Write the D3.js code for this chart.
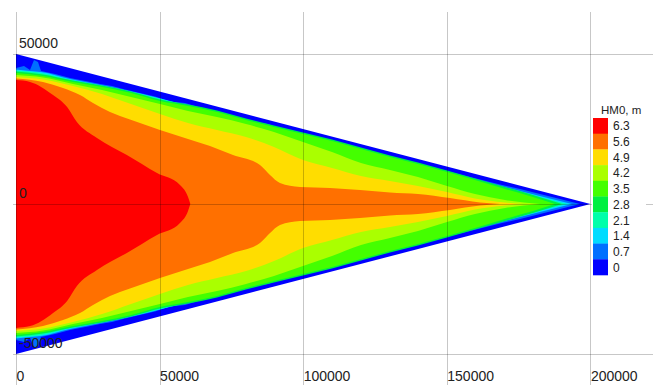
<!DOCTYPE html>
<html><head><meta charset="utf-8">
<script src="https://cdn.jsdelivr.net/npm/d3@7"></script>
<style>
body{margin:0;background:#fff}
svg{display:block;font-family:"Liberation Sans",Arial,sans-serif}
</style>
</head><body>
<svg id="chart" width="662" height="385"></svg>
<script>
// HM0 contour levels (m) and fill colours
var levels = [0, 0.7, 1.4, 2.1, 2.8, 3.5, 4.2, 4.9, 5.6, 6.3];
var colors = ["#0000ff", "#0070ff", "#00dcff", "#00ffaa", "#00f040", "#44ff00", "#aaff00", "#ffdd00", "#ff7000", "#ff0000"];

// half-width (y, m) of the zone where HM0 >= level, read along x (m); symmetric about y = 0
var hw00 = [[0, 50000], [200000, 0]];
var hw07 = [[0, 45333], [2786, 46000], [4875, 44667], [6267, 48000], [7660, 47333], [8705, 44333], [13579, 43333],
  [18802, 42000], [22284, 41333], [25070, 40833], [29248, 40000], [33426, 39333], [37953, 38167], [43176, 37000],
  [48398, 35833], [53621, 34167], [58844, 33667], [64067, 32167], [69290, 30333], [75209, 29667], [81476, 27500],
  [87744, 26667], [93663, 24500], [98886, 23667], [105850, 21167], [112813, 20167], [119777, 18000], [126741, 16667],
  [133705, 14833], [140669, 13167], [147632, 11500], [154596, 9833], [161560, 8167], [168524, 6500], [175488, 5000],
  [182451, 3333], [189415, 1667], [196382, 0]];
var hw14 = [[0, 44833], [4875, 44333], [8705, 44000], [18802, 41667], [29248, 39667], [43176, 36833], [58844, 33000],
  [75209, 29000], [93663, 24000], [112813, 19333], [133705, 14333], [154596, 9333], [175488, 4333], [193593, 0]];
var hw21 = [[0, 44500], [8705, 43667], [18802, 41333], [29248, 39500], [43176, 36667], [58844, 32833], [75209, 28833],
  [93663, 23833], [112813, 19167], [133705, 14000], [154596, 9000], [175488, 3833], [191852, 0]];
var hw28 = [[0, 44167], [9401, 43167], [19847, 41167], [29945, 39500], [40042, 37500], [50139, 34833], [59889, 33167],
  [69986, 31167], [80084, 28500], [89834, 26167], [99932, 23833], [110029, 21500], [120127, 18833], [130223, 16167],
  [139972, 13833], [150070, 11167], [159820, 8500], [170266, 5667], [180016, 3000], [190112, 0]];
var hw35 = [[0, 43667], [9401, 42667], [19847, 40667], [29945, 39000], [40042, 37000], [50139, 34333], [59889, 32667],
  [69986, 30667], [80084, 28000], [89834, 25667], [99932, 23333], [110029, 21000], [120127, 18333], [130223, 15667],
  [139972, 13333], [150070, 10667], [159820, 8000], [170266, 5000], [180016, 2333], [187676, 0]];
var hw42 = [[0, 43000], [9401, 42167], [19847, 40000], [29945, 38000], [40042, 35667], [50139, 33333], [59889, 31000],
  [69986, 29000], [80084, 26667], [89834, 24000], [99932, 20667], [110029, 17333], [120127, 13667], [130223, 11333],
  [139972, 9000], [150070, 6000], [159820, 3333], [170266, 1333], [182453, 0]];
var hw49 = [[0, 42333], [9401, 41500], [19847, 39333], [29945, 36667], [40042, 33333], [50139, 30000], [59889, 27000],
  [69986, 24667], [80084, 22333], [89834, 19000], [99932, 14667], [110029, 12000], [120127, 9333], [130223, 7667],
  [139972, 6000], [150070, 4000], [159820, 1833], [170266, 500], [176533, 0]];
var hw56 = [[0, 41833], [9401, 40667], [16365, 38667], [22284, 36333], [26811, 33667], [32730, 30667], [39693, 28167],
  [50139, 24667], [59889, 21667], [67549, 19333], [75557, 16333], [84958, 13000], [88440, 9667], [91922, 7000],
  [98886, 5667], [109332, 5333], [119777, 4667], [130223, 3833], [139972, 3333], [151114, 2000], [161560, 500], [168524, 0]];
var hw63 = [[0, 41300], [4900, 40700], [12900, 36300], [17800, 32300], [21200, 27300], [28200, 22000], [38600, 16300],
  [49100, 10300], [57100, 6300], [59900, 2300], [60700, 0]];
var zones = [hw00, hw07, hw14, hw21, hw28, hw35, hw42, hw49, hw56, hw63];

var xTicks = [0, 50000, 100000, 150000, 200000];
var yTicks = [-50000, 0, 50000];
var legendTitle = "HM0, m";

var svg = d3.select("#chart");

var x = d3.scaleLinear().domain([0, 200000]).range([16, 590.4]);
var y = d3.scaleLinear().domain([-50000, 50000]).range([354, 54]);

// filled contour bands, outermost first
var area = d3.area()
  .x(function (d) { return x(d[0]); })
  .y0(function (d) { return y(-d[1]); })
  .y1(function (d) { return y(d[1]); });

svg.append("g").selectAll("path")
  .data(zones)
  .enter()
  .append("path")
  .attr("fill", function (d, i) { return colors[i]; })
  .attr("d", function (d, i) {
    return area.curve(i < 2 ? d3.curveLinear : d3.curveMonotoneX)(d);
  });

// grid
var grid = svg.append("g").attr("stroke", "#000").attr("stroke-opacity", 0.22).attr("stroke-width", 1);
grid.selectAll(".vx").data(xTicks).enter().append("line")
  .attr("x1", function (d) { return Math.round(x(d)) + 0.5; })
  .attr("x2", function (d) { return Math.round(x(d)) + 0.5; })
  .attr("y1", 12).attr("y2", 385);
grid.selectAll(".hy").data(yTicks).enter().append("line")
  .attr("y1", function (d) { return Math.round(y(d)) + 0.5; })
  .attr("y2", function (d) { return Math.round(y(d)) + 0.5; })
  .attr("x1", 13).attr("x2", 653);

// tick labels
svg.append("g").selectAll("text").data(xTicks).enter().append("text")
  .attr("x", function (d) { return x(d) + 0.5; })
  .attr("y", 381)
  .attr("font-size", 14).attr("fill", "#222")
  .text(function (d) { return d; });
svg.append("g").selectAll("text").data(yTicks).enter().append("text")
  .attr("x", 19)
  .attr("y", function (d) { return y(d) - 6; })
  .attr("font-size", 14).attr("fill", "#222")
  .text(function (d) { return d; });

// legend
var lg = svg.append("g");
lg.append("rect").attr("x", 592).attr("y", 100).attr("width", 54).attr("height", 180).attr("fill", "#fff");
lg.append("text").attr("x", 601).attr("y", 114).attr("font-size", 11.5).attr("fill", "#222").text(legendTitle);
var boxH = 15.7;
var rev = levels.slice().reverse();
lg.selectAll("rect.box").data(rev).enter().append("rect")
  .attr("class", "box")
  .attr("x", 593).attr("width", 15)
  .attr("y", function (d, i) { return 118 + i * boxH; })
  .attr("height", boxH + 0.3)
  .attr("fill", function (d) { return colors[levels.indexOf(d)]; });
lg.selectAll("text.lab").data(rev).enter().append("text")
  .attr("class", "lab")
  .attr("x", 613)
  .attr("y", function (d, i) { return 118 + i * boxH + boxH / 2 + 4.5; })
  .attr("font-size", 12).attr("fill", "#222")
  .text(function (d) { return d; });
</script>
</body></html>
